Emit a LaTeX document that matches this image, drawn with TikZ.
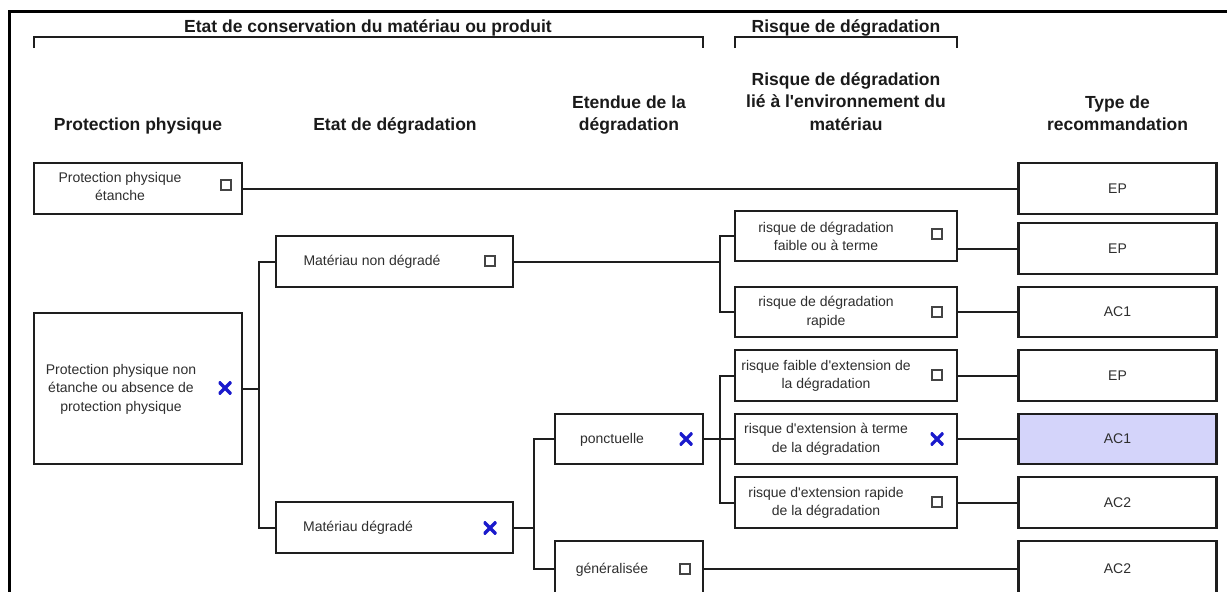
\documentclass[tikz,border=0pt]{standalone}
\usepackage{fontspec}
\setmainfont{Liberation Sans}
\definecolor{linec}{HTML}{1E1E1E}
\definecolor{textc}{HTML}{2E2E2E}
\definecolor{hdrc}{HTML}{1A1A1A}
\definecolor{hilite}{HTML}{D4D4FA}
\definecolor{xblue}{HTML}{1A1ACC}
\definecolor{cbgray}{HTML}{444444}
\tikzset{
  box/.style={draw=linec, line width=2.4pt, inner sep=0pt, outer sep=0pt, fill=white},
  leftbox/.style={box, minimum width=208pt},
  degbox/.style={box, minimum width=237pt, minimum height=51pt},
  extbox/.style={box, minimum width=148pt},
  riskbox/.style={box, minimum width=222pt},
  recbox/.style={box, minimum width=198pt},
  txt/.style={font=\fontsize{14}{18.5}\selectfont, text=textc, align=center, inner sep=0pt},
  hdr/.style={font=\fontsize{17.5}{22.5}\selectfont\bfseries, text=hdrc, align=center, inner sep=0pt},
  conn/.style={draw=linec, line width=2pt},
  brk/.style={draw=linec, line width=2.2pt},
  cb/.style={draw=cbgray, line width=1.3pt, minimum size=10pt, inner sep=0pt, fill=white},
  cbx/.style={draw=none, minimum size=13pt, inner sep=0pt,
    path picture={\draw[xblue, line width=3.2pt, line cap=rect]
      ([shift={(1.4pt,1.4pt)}]path picture bounding box.south west) -- ([shift={(-1.4pt,-1.4pt)}]path picture bounding box.north east)
      ([shift={(1.4pt,-1.4pt)}]path picture bounding box.north west) -- ([shift={(-1.4pt,1.4pt)}]path picture bounding box.south east);}},
}
\begin{document}
\begin{tikzpicture}[x=1pt,y=-1pt]
\useasboundingbox (0,0) rectangle (1227,592);
\clip (0,0) rectangle (1227,592);
% frame
\draw[draw=black, line width=3pt] (9,600) -- (9,11) -- (1230,11);
% titles and brackets
\node[hdr] (t1) at (368,27.5) {Etat de conservation du matériau ou produit};
\draw[brk] (34,48) -- (34,37) -- (703,37) -- (703,48);
\node[hdr] (t2) at (846,27.5) {Risque de dégradation};
\draw[brk] (735,48) -- (735,37) -- (957,37) -- (957,48);
% column headers
\node[hdr, anchor=base] (h1) at (138,130) {Protection physique};
\node[hdr, anchor=base] (h2) at (395,130) {Etat de dégradation};
\node[hdr, anchor=base] (h3) at (629,130) {dégradation};
\node[hdr, anchor=base] (h3b) at (629,108) {Etendue de la};
\node[hdr, anchor=base] (h4) at (846,130) {matériau};
\node[hdr, anchor=base] (h4b) at (846,107.5) {lié à l\textquotesingle environnement du};
\node[hdr, anchor=base] (h4c) at (846,85) {Risque de dégradation};
\node[hdr, anchor=base] (h5) at (1117.5,130) {recommandation};
\node[hdr, anchor=base] (h5b) at (1117.5,108) {Type de};
% boxes
\node[leftbox, minimum height=51pt] (A) at (138,188.5) {};
\node[leftbox, minimum height=151pt] (B) at (138,388.5) {};
\node[degbox] (C) at (394.5,261.5) {};
\node[degbox] (D) at (394.5,527.5) {};
\node[extbox, minimum height=50pt] (E) at (629,439) {};
\node[extbox, minimum height=56pt] (F) at (629,569) {};
\node[riskbox, minimum height=50pt] (G) at (846,236) {};
\node[riskbox, minimum height=50pt] (H) at (846,312) {};
\node[riskbox, minimum height=51pt] (I) at (846,375.5) {};
\node[riskbox, minimum height=50pt] (J) at (846,439) {};
\node[riskbox, minimum height=51pt] (K) at (846,502.5) {};
\node[recbox, minimum height=51pt] (R1) at (1117.5,188.5) {};
\node[recbox, minimum height=51pt] (R2) at (1117.5,248.5) {};
\node[recbox, minimum height=50pt] (R3) at (1117.5,312) {};
\node[recbox, minimum height=51pt] (R4) at (1117.5,375.5) {};
\node[recbox, minimum height=50pt, fill=hilite] (R5) at (1117.5,439) {};
\node[recbox, minimum height=51pt] (R6) at (1117.5,502.5) {};
\node[recbox, minimum height=56pt] (R7) at (1117.5,569) {};
% box texts
\node[txt] (At) at (120,186.5) {Protection physique\\étanche};
\node[txt] (Bt) at (121,389) {Protection physique non\\étanche ou absence de\\protection physique};
\node[txt] (Ct) at (372,262) {Matériau non dégradé};
\node[txt] (Dt) at (358,528) {Matériau dégradé};
\node[txt] (Et) at (612,439.5) {ponctuelle};
\node[txt] (Ft) at (612,569.5) {généralisée};
\node[txt] (Gt) at (826,236.5) {risque de dégradation\\faible ou à terme};
\node[txt] (Ht) at (826,312.5) {risque de dégradation\\rapide};
\node[txt] (It) at (826,376) {risque faible d\textquotesingle extension de\\la dégradation};
\node[txt] (Jt) at (826,439.5) {risque d\textquotesingle extension à terme\\de la dégradation};
\node[txt] (Kt) at (826,503) {risque d\textquotesingle extension rapide\\de la dégradation};
\node[txt] (R1t) at (R1) {EP};
\node[txt] (R2t) at (R2) {EP};
\node[txt] (R3t) at (R3) {AC1};
\node[txt] (R4t) at (R4) {EP};
\node[txt] (R5t) at (R5) {AC1};
\node[txt] (R6t) at (R6) {AC2};
\node[txt] (R7t) at (R7) {AC2};
% checkboxes
\node[cb] (Ac) at (226,185) {};
\node[cbx] (Bc) at (225,388) {};
\node[cb] (Cc) at (490,261) {};
\node[cbx] (Dc) at (490,528) {};
\node[cbx] (Ec) at (686,439) {};
\node[cb] (Fc) at (685,569) {};
\node[cb] (Gc) at (937,234) {};
\node[cb] (Hc) at (937,312) {};
\node[cb] (Ic) at (937,375) {};
\node[cbx] (Jc) at (937,439) {};
\node[cb] (Kc) at (937,502) {};
% bus coordinates
\coordinate (bB) at (259,388.5);
\coordinate (bC) at (720,261.5);
\coordinate (bD) at (534,527.5);
\coordinate (bE) at (720,439);
% connectors
\draw[conn] (A.east) -- (R1.west);
\draw[conn] (B.east) -- (bB);
\draw[conn] (C.west) -| (bB) |- (D.west);
\draw[conn] (C.east) -- (bC);
\draw[conn] (G.west) -| (bC) |- (H.west);
\draw[conn] (D.east) -- (bD);
\draw[conn] (E.west) -| (bD) |- (F.west);
\draw[conn] (E.east) -- (J.west);
\draw[conn] (I.west) -| (bE) |- (K.west);
\draw[conn] (F.east) -- (R7.west);
\draw[conn] (G.east |- R2.west) -- (R2.west);
\draw[conn] (H.east |- R3.west) -- (R3.west);
\draw[conn] (I.east |- R4.west) -- (R4.west);
\draw[conn] (J.east |- R5.west) -- (R5.west);
\draw[conn] (K.east |- R6.west) -- (R6.west);
\end{tikzpicture}
\end{document}
